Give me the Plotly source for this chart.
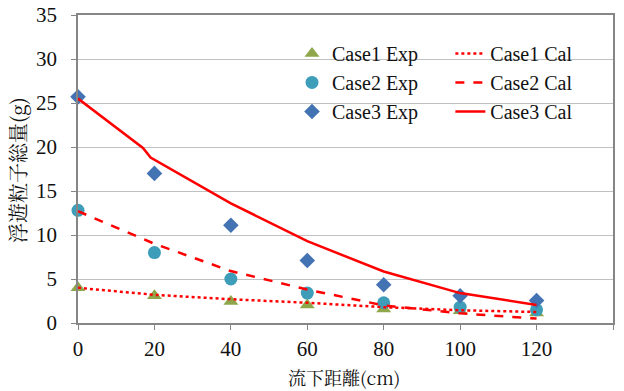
import plotly.graph_objects as go

# Experimental data
x_exp = [0, 20, 40, 60, 80, 100, 120]
case1_exp = [4.0, 3.1, 2.45, 2.05, 1.6, 1.4, 1.15]
case2_exp = [12.8, 8.0, 5.0, 3.4, 2.3, 1.8, 1.5]
case3_exp = [25.7, 17.0, 11.1, 7.1, 4.35, 3.1, 2.55]

# Calculated data
x_cal = [0, 20, 40, 60, 80, 100, 120]
case1_cal = [4.0, 3.2, 2.7, 2.3, 1.8, 1.45, 1.25]
case2_cal = [12.7, 9.0, 5.9, 3.8, 2.0, 1.1, 0.5]
x_cal3 = [0, 17, 19, 40, 60, 80, 100, 120]
case3_cal = [25.5, 19.9, 18.8, 13.6, 9.3, 5.85, 3.4, 2.05]

x_ticks = [0, 20, 40, 60, 80, 100, 120, 140]
y_ticks = [0, 5, 10, 15, 20, 25, 30, 35]

x_title = "流下距離(cm)"
y_title = "浮遊粒子総量(g)"

SERIF = "Liberation Serif"
CJK = "Noto Serif CJK JP"
tickfont = dict(family=SERIF, size=21, color="#111111")

fig = go.Figure()

fig.add_trace(go.Scatter(x=x_exp, y=case1_exp, mode="markers", name="Case1 Exp",
                         marker=dict(symbol="triangle-up", size=13, color="#8EA74A"),
                         cliponaxis=False, legend="legend"))
fig.add_trace(go.Scatter(x=x_exp, y=case2_exp, mode="markers", name="Case2 Exp",
                         marker=dict(symbol="circle", size=13, color="#3E9DB8"),
                         cliponaxis=False, legend="legend"))
fig.add_trace(go.Scatter(x=x_exp, y=case3_exp, mode="markers", name="Case3 Exp",
                         marker=dict(symbol="diamond", size=12, color="#4473B4"),
                         cliponaxis=False, legend="legend"))

fig.add_trace(go.Scatter(x=x_cal, y=case1_cal, mode="lines", name="Case1 Cal",
                         line=dict(color="#FF0000", width=2.5, dash="dot"),
                         legend="legend2"))
fig.add_trace(go.Scatter(x=x_cal, y=case2_cal, mode="lines", name="Case2 Cal",
                         line=dict(color="#FF0000", width=2.5, dash="dash"),
                         legend="legend2"))
fig.add_trace(go.Scatter(x=x_cal3, y=case3_cal, mode="lines", name="Case3 Cal",
                         line=dict(color="#FF0000", width=2.5),
                         legend="legend2"))

# white legend background box
fig.add_shape(type="rect", xref="paper", yref="paper", x0=0.372, x1=0.979, y0=0.60, y1=0.96,
              fillcolor="white", line=dict(width=0), layer="between")

# axis titles
fig.add_annotation(text=x_title, xref="paper", yref="paper", x=0.497, y=-0.174,
                   xanchor="center", yanchor="middle", showarrow=False,
                   font=dict(family=CJK, size=18, color="#111111"))
fig.add_annotation(text=y_title, xref="paper", yref="paper", x=-0.112, y=0.497,
                   xanchor="center", yanchor="middle", showarrow=False, textangle=-90,
                   font=dict(family=CJK, size=20, color="#111111"))

fig.update_layout(
    width=624, height=391,
    margin=dict(l=78, r=11, t=15, b=68, autoexpand=False),
    paper_bgcolor="white", plot_bgcolor="white",
    font=dict(family=SERIF, size=21, color="#111111"),
    legend=dict(x=0.40, y=0.9385, xanchor="left", yanchor="top",
                bgcolor="rgba(0,0,0,0)", font=dict(family=SERIF, size=20)),
    legend2=dict(x=0.696, y=0.9385, xanchor="left", yanchor="top",
                 bgcolor="rgba(0,0,0,0)", font=dict(family=SERIF, size=20)),
    xaxis=dict(range=[0, 140], tickvals=x_ticks, ticktext=[str(v) for v in x_ticks],
               tickfont=tickfont,
               showgrid=False, zeroline=False, showline=True, linecolor="#868686",
               linewidth=1.5, mirror=True, ticks="outside", ticklen=5, tickcolor="#868686",
               ticklabelstandoff=1, automargin=False),
    yaxis=dict(range=[0, 35], tickvals=y_ticks, ticktext=[str(v) for v in y_ticks],
               tickfont=tickfont,
               showgrid=True, gridcolor="#C0C0C0", gridwidth=1.2, zeroline=False,
               showline=True, linecolor="#868686", linewidth=1.5, mirror=True,
               ticks="outside", ticklen=5, tickcolor="#868686", ticklabelstandoff=10,
               automargin=False),
)

fig.write_html("out.html")
